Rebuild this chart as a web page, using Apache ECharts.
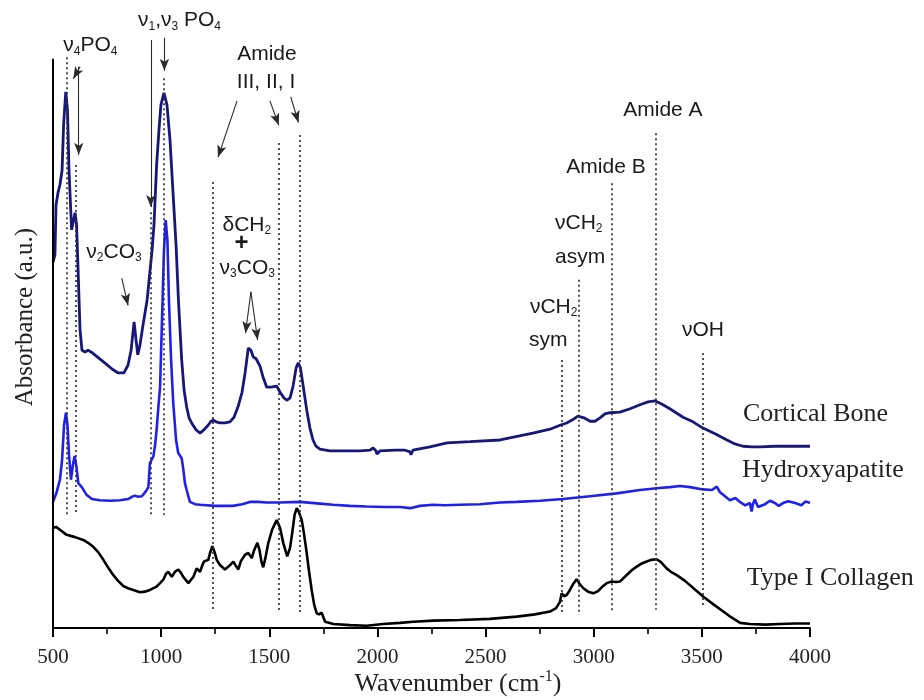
<!DOCTYPE html>
<html>
<head>
<meta charset="utf-8">
<script src="https://cdn.jsdelivr.net/npm/echarts@6/dist/echarts.min.js"></script>
<style>
  html, body { margin: 0; padding: 0; background: #fff; }
  #chart { width: 924px; height: 700px; }
</style>
</head>
<body>
<div id="chart"></div>
<script>
// FTIR absorbance spectra, arbitrary units, traces offset vertically.

// Cortical bone
const boneWn = [500,509,514,523,532,542,549,559,567,574,586,592,602,609,616,625,634,648,662,676,699,722,745,773,801,828,847,861,875,884,892,902,916,935,948,958,967,979,990,999,1013,1027,1041,1055,1069,1080,1095,1106,1118,1129,1141,1161,1180,1198,1217,1231,1241,1254,1272,1295,1318,1337,1355,1374,1388,1403,1415,1426,1439,1448,1457,1471,1488,1508,1534,1550,1568,1581,1596,1610,1624,1634,1644,1656,1673,1688,1702,1716,1734,1781,1850,1919,1966,1980,1993,1998,2012,2081,2128,2151,2155,2164,2243,2322,2428,2567,2719,2798,2844,2875,2900,2927,2955,2983,3006,3029,3052,3075,3121,3168,3214,3251,3283,3316,3352,3413,3459,3505,3561,3616,3653,3690,3732,3769,3838,3908,4000];
const boneAbs = [64.4,65.7,74.5,76.6,78.0,80.6,88.6,94.4,91.2,80.6,70.1,70.4,73.1,71.0,63.0,52.5,48.9,48.6,48.9,48.6,47.9,47.2,46.5,45.6,44.9,44.9,46.3,48.9,53.9,50.7,48.1,49.8,53.3,57.7,62.7,66.5,71.0,81.5,87.7,92.1,94.2,92.1,85.9,76.6,67.4,57.7,47.2,41.9,38.9,37.0,36.1,34.9,34.3,34.9,35.7,36.4,36.6,36.3,36.1,36.1,36.3,37.1,38.9,41.5,44.9,49.3,48.9,47.7,47.4,47.2,46.1,44.2,42.4,42.4,42.6,41.5,40.5,40.1,40.5,42.6,45.8,46.7,45.8,42.8,38.4,35.2,33.1,32.0,31.5,31.2,31.2,31.2,31.3,31.7,31.2,30.6,31.2,31.3,31.3,31.0,30.5,31.3,31.9,32.6,32.8,33.1,34.3,35.0,35.7,36.1,36.6,37.3,37.0,36.4,36.4,37.0,37.7,37.9,38.0,38.6,39.3,39.8,40.0,39.4,38.6,37.1,36.3,35.2,34.2,33.1,32.4,32.0,31.9,31.9,32.0,32.0,32.0];

// Hydroxyapatite
const hapWn = [500,509,516,523,532,542,551,560,567,574,583,592,600,609,617,633,656,680,717,764,810,847,865,879,893,911,930,941,948,958,964,972,979,988,995,1004,1013,1021,1029,1036,1046,1056,1069,1079,1095,1103,1110,1118,1133,1157,1180,1249,1332,1374,1411,1448,1488,1550,1642,1734,1795,1873,1950,2035,2104,2151,2197,2257,2312,2382,2474,2567,2644,2752,2858,2983,3106,3214,3291,3353,3399,3445,3505,3547,3569,3584,3607,3630,3655,3676,3700,3722,3730,3736,3745,3760,3792,3815,3838,3855,3875,3900,3931,3960,3980,4000];
const hapAbs = [22.2,22.5,23.8,24.8,26.1,29.6,35.7,37.9,35.7,30.5,26.1,28.7,30.3,28.2,25.5,24.8,23.4,22.7,22.5,22.4,22.5,22.7,23.1,23.3,23.1,23.2,24.1,24.8,29.0,29.8,30.2,32.2,34.9,39.3,42.4,54.2,66.5,71.8,68.3,57.7,47.2,39.6,33.1,30.8,29.9,27.8,25.5,24.3,22.2,21.8,21.7,21.5,21.5,21.8,22.2,22.2,22.1,22.1,22.2,21.9,21.7,21.5,21.4,21.3,21.3,21.1,21.5,21.7,21.6,21.7,21.8,22.1,22.2,22.4,22.7,23.2,23.7,24.3,24.6,24.8,25.0,24.8,24.4,24.3,24.9,23.9,23.2,22.5,22.9,22.2,21.6,22.0,20.5,21.8,22.6,21.3,21.8,22.4,22.0,21.5,22.0,22.3,22.0,21.6,22.3,22.0];

// Type I collagen
const colWn = [500,514,532,563,602,640,662,686,708,733,754,779,801,825,847,871,902,925,948,979,995,1010,1022,1033,1049,1064,1079,1092,1102,1126,1138,1149,1164,1180,1189,1198,1207,1218,1226,1237,1247,1257,1272,1295,1314,1334,1346,1357,1369,1388,1403,1419,1429,1445,1455,1464,1472,1482,1495,1513,1534,1550,1565,1583,1596,1608,1617,1627,1637,1650,1660,1673,1684,1696,1707,1719,1730,1742,1748,1758,1796,1873,1950,2026,2104,2166,2258,2382,2520,2644,2728,2798,2826,2844,2852,2863,2875,2890,2904,2921,2936,2952,2974,2998,3020,3038,3060,3083,3103,3122,3149,3177,3199,3219,3245,3265,3291,3311,3337,3357,3384,3422,3464,3507,3552,3599,3635,3677,3722,3792,3861,3931,4000];
const colAbs = [17.6,17.8,17.3,16.4,16.0,15.5,15.0,14.3,13.4,12.0,10.7,9.3,8.3,7.4,7.0,6.7,6.3,6.4,6.7,7.3,7.9,8.5,9.5,9.9,9.0,9.9,10.3,9.7,9.0,7.9,8.5,9.0,10.5,9.9,10.9,11.7,11.4,12.0,13.2,14.4,13.4,12.0,11.1,10.3,10.9,11.7,10.9,10.3,11.8,12.9,13.2,12.3,13.6,15.0,13.7,11.6,10.7,12.3,14.9,17.3,19.0,17.6,14.9,12.6,14.1,17.3,19.9,21.1,20.4,19.0,16.7,13.2,9.9,6.7,4.2,2.6,2.4,2.7,2.1,1.1,0.7,0.5,0.4,0.7,0.9,1.1,1.3,1.4,1.6,2.0,2.4,2.9,3.5,4.6,6.1,5.6,5.8,6.7,7.7,8.6,7.7,7.0,6.4,6.1,6.5,7.2,7.9,8.2,8.1,8.2,9.2,10.2,10.8,11.3,11.7,12.0,12.1,11.6,10.5,9.9,9.3,8.3,6.9,5.5,4.2,2.9,1.9,0.9,0.7,0.6,0.7,0.8,0.8];

// Axis
const xMin = 500, xMax = 4000, xStep = 500;

// Band assignments: dotted guide at each wavenumber, from top to bottom (a.u.)
const bandWn     = [563, 606, 951, 1013, 1237, 1542, 1642, 2852, 2932, 3083, 3287, 3502];
const bandTop    = [100.5, 81.5, 73.2, 96.8, 78.5, 85.4, 86.8, 47.2, 61.3, 78.3, 87.1, 48.4];
const bandBottom = [19.5, 19.9, 19.9, 19.9, 2.8, 2.8, 2.8, 2.3, 2.3, 2.8, 3.2, 3.5];

// Leader arrows: [fromWn, fromAbs, toWn, toAbs]
const arrows = [
  [625, 98.8, 594, 96.7],
  [619, 98.8, 619, 83.3],
  [952, 103.5, 952, 74.1],
  [1015, 103.9, 1015, 98.1],
  [1351, 92.8, 1263, 82.9],
  [1503, 92.8, 1544, 88.5],
  [1599, 93.5, 1635, 89.0],
  [818, 61.6, 847, 56.8],
  [1415, 59.2, 1390, 51.9],
  [1415, 59.2, 1446, 50.7]
];

// Band labels (rich text: n = normal, s = subscript, p = plus sign)
const bandLabels = [
  { text: '{n|ν}{s|4}{n|PO}{s|4}', wn: 673, abs: 102.6, align: 'center' },
  { text: '{n|ν}{s|1}{n|,ν}{s|3}{n| PO}{s|4}', wn: 1085, abs: 107.0, align: 'center' },
  { text: '{n|Amide}', wn: 1489, abs: 101.1, align: 'center' },
  { text: '{n|III, II, I}', wn: 1485, abs: 96.1, align: 'center' },
  { text: '{n|Amide A}', wn: 3320, abs: 91.2, align: 'center' },
  { text: '{n|Amide B}', wn: 3057, abs: 81.2, align: 'center' },
  { text: '{n|νCH}{s|2}', wn: 2821, abs: 71.3, align: 'left' },
  { text: '{n|asym}', wn: 2821, abs: 65.3, align: 'left' },
  { text: '{n|νCH}{s|2}', wn: 2705, abs: 56.5, align: 'left' },
  { text: '{n|sym}', wn: 2701, abs: 50.7, align: 'left' },
  { text: '{n|νOH}', wn: 3505, abs: 52.5, align: 'center' },
  { text: '{n|ν}{s|2}{n|CO}{s|3}', wn: 782, abs: 66.2, align: 'center' },
  { text: '{n|δCH}{s|2}', wn: 1396, abs: 71.0, align: 'center' },
  { text: '{p|+}', wn: 1372, abs: 67.8, align: 'center' },
  { text: '{n|ν}{s|3}{n|CO}{s|3}', wn: 1398, abs: 63.4, align: 'center' }
];

// Trace names
const seriesNames = ['Cortical Bone', 'Hydroxyapatite', 'Type I Collagen'];
const nameWn  = [3690, 3686, 3707];
const nameAbs = [37.7, 27.8, 8.8];

const zip = (xs, ys) => xs.map((x, i) => [x, ys[i]]);

const inkColor = '#1a1a1a';
const richSans = {
  n: { fontFamily: 'Liberation Sans', fontSize: 21, lineHeight: 24, color: inkColor },
  s: { fontFamily: 'Liberation Sans', fontSize: 12, lineHeight: 8, verticalAlign: 'bottom', color: inkColor },
  p: { fontFamily: 'Liberation Sans', fontSize: 24, fontWeight: 'bold', lineHeight: 24, color: inkColor }
};

const guideLines = bandWn.map((w, i) => [
  { coord: [w, bandTop[i]] },
  { coord: [w, bandBottom[i]] }
]);

const arrowLines = arrows.map(a => [
  { coord: [a[0], a[1]], symbol: 'none',
    lineStyle: { type: 'solid', color: '#2a2a2a', width: 1.1 } },
  { coord: [a[2], a[3]], symbol: 'arrow', symbolSize: [7, 12] }
]);

// y-axis spine drawn from 0 to the top of the trace area
const spine = [[
  { coord: [xMin, 0], symbol: 'none', lineStyle: { type: 'solid', color: '#000', width: 2 } },
  { coord: [xMin, 100.2], symbol: 'none' }
]];

const labelPoints = bandLabels.map(l => ({
  coord: [l.wn, l.abs],
  label: { formatter: l.text, align: l.align, verticalAlign: 'middle', rich: richSans }
}));

const namePoints = seriesNames.map((n, i) => ({
  coord: [nameWn[i], nameAbs[i]],
  label: {
    formatter: n, align: 'left', verticalAlign: 'middle',
    fontFamily: 'Liberation Serif', fontSize: 26, color: '#222'
  }
}));

const chart = echarts.init(document.getElementById('chart'), null, { renderer: 'canvas' });

chart.setOption({
  animation: false,
  backgroundColor: '#fff',
  grid: { left: 53, right: 114, top: 3.2, bottom: 72, containLabel: false },
  xAxis: {
    type: 'value',
    min: xMin, max: xMax, interval: xStep,
    axisLine: { show: true, onZero: false, lineStyle: { color: '#000', width: 2 } },
    axisTick: { show: true, inside: false, length: 9, lineStyle: { color: '#000', width: 2 } },
    minorTick: { show: true, splitNumber: 2, length: 6, lineStyle: { color: '#000', width: 1.6 } },
    axisLabel: {
      fontFamily: 'Liberation Serif', fontSize: 21, color: '#222', margin: 19,
      formatter: v => String(v)
    },
    splitLine: { show: false }
  },
  yAxis: {
    type: 'value', min: 0, max: 110,
    axisLine: { show: false }, axisTick: { show: false },
    axisLabel: { show: false }, splitLine: { show: false }
  },
  series: [
    {
      name: seriesNames[0], type: 'line', data: zip(boneWn, boneAbs),
      symbol: 'none', smooth: false,
      lineStyle: { color: '#17177a', width: 2.8 }
    },
    {
      name: seriesNames[1], type: 'line', data: zip(hapWn, hapAbs),
      symbol: 'none', smooth: false,
      lineStyle: { color: '#2020ee', width: 2.6 }
    },
    {
      name: seriesNames[2], type: 'line', data: zip(colWn, colAbs),
      symbol: 'none', smooth: false,
      lineStyle: { color: '#000', width: 2.6 }
    },
    {
      name: 'bands', type: 'line', data: [], symbol: 'none', silent: true,
      markLine: {
        silent: true, animation: false,
        symbol: ['none', 'none'],
        label: { show: false },
        emphasis: { disabled: true },
        lineStyle: { type: [2, 3], color: '#333', width: 1.7 },
        data: spine.concat(guideLines, arrowLines)
      },
      markPoint: {
        silent: true, animation: false,
        symbol: 'rect', symbolSize: 1,
        itemStyle: { color: 'rgba(0,0,0,0)' },
        label: { show: true, position: 'inside' },
        data: labelPoints.concat(namePoints)
      }
    }
  ],
  graphic: [
    {
      type: 'text', x: 458, y: 684, silent: true,
      style: {
        text: '{m|Wavenumber (cm}{p|-1}{m|)}',
        align: 'center', verticalAlign: 'middle',
        rich: {
          m: { fontFamily: 'Liberation Serif', fontSize: 26, lineHeight: 30, fill: '#222' },
          p: { fontFamily: 'Liberation Serif', fontSize: 16, lineHeight: 12, verticalAlign: 'top', fill: '#222' }
        }
      }
    },
    {
      type: 'text', x: 25, y: 317, rotation: Math.PI / 2, silent: true,
      style: {
        text: 'Absorbance (a.u.)',
        fontFamily: 'Liberation Serif', fontSize: 25, fill: '#222',
        align: 'center', verticalAlign: 'middle'
      }
    }
  ]
});
</script>
</body>
</html>
